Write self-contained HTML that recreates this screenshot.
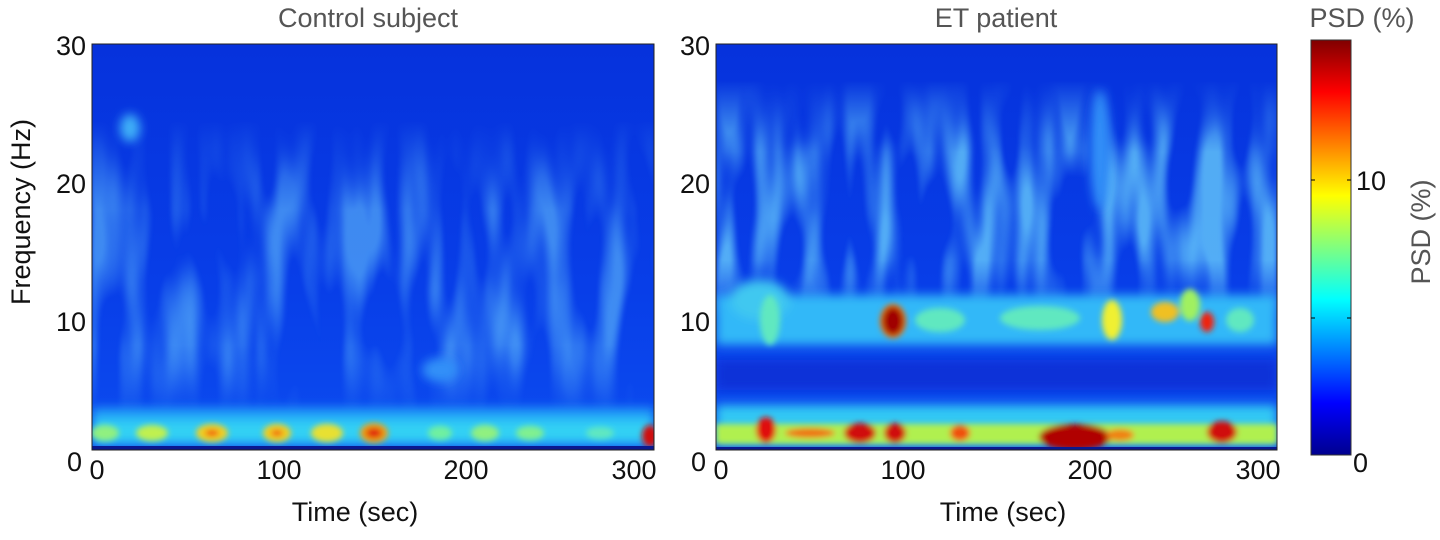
<!DOCTYPE html>
<html><head><meta charset="utf-8"><style>
html,body{margin:0;padding:0;background:#fff;}
svg text{font-family:"Liberation Sans",Arial,sans-serif;}
</style></head><body>
<svg width="1440" height="535" viewBox="0 0 1440 535" xmlns="http://www.w3.org/2000/svg">
<defs>
<filter id="b" x="-20%" y="-20%" width="140%" height="140%"><feGaussianBlur stdDeviation="5"/></filter>
<filter id="b2" x="-20%" y="-20%" width="140%" height="140%"><feGaussianBlur stdDeviation="3"/></filter>
<filter id="tex" x="0" y="0" width="100%" height="100%">
<feTurbulence type="fractalNoise" baseFrequency="0.035 0.007" numOctaves="2" seed="3"/>
<feColorMatrix values="0 0 0 0 0.15  0 0 0 0 0.6  0 0 0 0 0.97  3.2 0 0 0 -1.35"/>
<feGaussianBlur stdDeviation="1.5"/>
</filter>
<filter id="tex2" x="0" y="0" width="100%" height="100%">
<feTurbulence type="fractalNoise" baseFrequency="0.035 0.007" numOctaves="2" seed="11"/>
<feColorMatrix values="0 0 0 0 0.15  0 0 0 0 0.65  0 0 0 0 0.97  3.6 0 0 0 -1.45"/>
<feGaussianBlur stdDeviation="1.5"/>
</filter>
<linearGradient id="fade" x1="0" y1="0" x2="0" y2="1">
<stop offset="0" stop-color="#fff" stop-opacity="0"/><stop offset="0.3" stop-color="#fff" stop-opacity="1"/>
<stop offset="0.75" stop-color="#fff" stop-opacity="1"/><stop offset="1" stop-color="#fff" stop-opacity="0"/>
</linearGradient>
<mask id="mL" maskUnits="userSpaceOnUse" x="0" y="0" width="1440" height="535"><rect x="92" y="120" width="562" height="300" fill="url(#fade)"/></mask>
<mask id="mR" maskUnits="userSpaceOnUse" x="0" y="0" width="1440" height="535"><rect x="716" y="80" width="561" height="240" fill="url(#fade)"/></mask>
<clipPath id="cl"><rect x="92" y="44" width="562" height="406"/></clipPath>
<clipPath id="cr"><rect x="716" y="44" width="561" height="406"/></clipPath>
<linearGradient id="jet" x1="0" y1="1" x2="0" y2="0">
<stop offset="0" stop-color="#00008f"/><stop offset="0.125" stop-color="#0000ff"/>
<stop offset="0.375" stop-color="#00ffff"/><stop offset="0.625" stop-color="#ffff00"/>
<stop offset="0.875" stop-color="#ff0000"/><stop offset="1" stop-color="#800000"/>
</linearGradient>
<linearGradient id="bgL" x1="0" y1="0" x2="0" y2="1">
<stop offset="0" stop-color="#0632dc"/><stop offset="0.6" stop-color="#083ee8"/><stop offset="1" stop-color="#0c4cf0"/>
</linearGradient>
</defs>

<!-- Left panel -->
<g clip-path="url(#cl)">
<rect x="92" y="44" width="562" height="406" fill="url(#bgL)"/>
<g mask="url(#mL)" opacity="0.55"><rect x="92" y="120" width="562" height="300" filter="url(#tex)"/></g>
<g filter="url(#b)">
<ellipse cx="130" cy="128" rx="10" ry="14" fill="#40b0f8"/>
<ellipse cx="440" cy="370" rx="18" ry="12" fill="#3090f8"/>
<rect x="92" y="408" width="562" height="38" fill="#20a0f8"/>
<rect x="92" y="420" width="562" height="22" fill="#30d0f4"/>
</g>
<g filter="url(#b2)">
<ellipse cx="105" cy="433" rx="14" ry="8" fill="#90f080"/>
<ellipse cx="152" cy="433" rx="16" ry="8" fill="#c0f050"/>
<ellipse cx="212" cy="433" rx="16" ry="9" fill="#f0d020"/>
<ellipse cx="212" cy="433" rx="7" ry="3" fill="#f04010"/>
<ellipse cx="277" cy="433" rx="14" ry="9" fill="#f0d020"/>
<ellipse cx="277" cy="433" rx="6" ry="3" fill="#f05010"/>
<ellipse cx="327" cy="433" rx="16" ry="9" fill="#e8e030"/>
<ellipse cx="374" cy="433" rx="14" ry="10" fill="#f0a010"/>
<ellipse cx="374" cy="433" rx="8" ry="5" fill="#e02010"/>
<ellipse cx="440" cy="433" rx="12" ry="7" fill="#70f0a0"/>
<ellipse cx="485" cy="433" rx="14" ry="8" fill="#90f080"/>
<ellipse cx="530" cy="433" rx="14" ry="7" fill="#80f090"/>
<ellipse cx="600" cy="433" rx="14" ry="6" fill="#60e8c0"/>
<ellipse cx="650" cy="436" rx="8" ry="11" fill="#d01010"/>
</g>
<rect x="92" y="446" width="562" height="4" fill="#0a1890"/>
</g>
<rect x="92" y="44" width="562" height="406" fill="none" stroke="#222" stroke-width="1"/>

<!-- Right panel -->
<g clip-path="url(#cr)">
<rect x="716" y="44" width="561" height="406" fill="url(#bgL)"/>
<g mask="url(#mR)" opacity="0.75"><rect x="716" y="80" width="561" height="240" filter="url(#tex2)"/></g>
<g filter="url(#b)">
<rect x="716" y="295" width="561" height="50" fill="#30b8f8"/>
<ellipse cx="760" cy="300" rx="30" ry="20" fill="#40c8f0"/>
<ellipse cx="1100" cy="150" rx="10" ry="60" fill="#3090f8"/>
<rect x="716" y="360" width="561" height="30" fill="#0a30d8"/>
<rect x="716" y="405" width="561" height="40" fill="#30c8f4"/>
</g>
<g filter="url(#b2)">
<ellipse cx="770" cy="320" rx="10" ry="25" fill="#60e8c0"/>
<ellipse cx="940" cy="320" rx="25" ry="12" fill="#60e8c0"/>
<ellipse cx="1040" cy="318" rx="40" ry="12" fill="#60e8c0"/>
<ellipse cx="1112" cy="320" rx="10" ry="20" fill="#f0f030"/>
<ellipse cx="1165" cy="312" rx="14" ry="10" fill="#f0c020"/>
<ellipse cx="1190" cy="305" rx="10" ry="16" fill="#a0f060"/>
<ellipse cx="1240" cy="320" rx="14" ry="12" fill="#60e8c0"/>
<ellipse cx="893" cy="321" rx="13" ry="17" fill="#f07010"/>
<ellipse cx="893" cy="321" rx="10" ry="14" fill="#a00000"/>
<ellipse cx="1207" cy="322" rx="7" ry="10" fill="#f02010"/>
<rect x="716" y="424" width="561" height="20" fill="#b0f050"/>
<ellipse cx="766" cy="430" rx="10" ry="13" fill="#e01010"/>
<ellipse cx="810" cy="433" rx="25" ry="5" fill="#f07010"/>
<ellipse cx="860" cy="433" rx="16" ry="10" fill="#d00808"/>
<ellipse cx="895" cy="433" rx="11" ry="10" fill="#d00808"/>
<ellipse cx="960" cy="433" rx="10" ry="8" fill="#f05010"/>
<ellipse cx="1075" cy="437" rx="36" ry="13" fill="#b00000"/>
<ellipse cx="1120" cy="435" rx="14" ry="6" fill="#f08010"/>
<ellipse cx="1222" cy="432" rx="15" ry="11" fill="#d00808"/>
</g>
<rect x="716" y="447" width="561" height="3" fill="#0a1890"/>
</g>
<rect x="716" y="44" width="561" height="406" fill="none" stroke="#222" stroke-width="1"/>

<!-- colorbar -->
<rect x="1311" y="40" width="40" height="415" fill="url(#jet)" stroke="#333" stroke-width="1"/>
<line x1="1311" y1="180" x2="1315" y2="180" stroke="#000"/><line x1="1347" y1="180" x2="1351" y2="180" stroke="#000"/>
<line x1="1311" y1="318" x2="1315" y2="318" stroke="#000"/><line x1="1347" y1="318" x2="1351" y2="318" stroke="#000"/>

<!-- text -->
<g font-size="27" fill="#111">
<text x="368" y="27" text-anchor="middle" fill="#555">Control subject</text>
<text x="996" y="27" text-anchor="middle" fill="#555">ET patient</text>
<text x="1362" y="27" text-anchor="middle" fill="#555">PSD (%)</text>
<text x="86" y="55" text-anchor="end">30</text>
<text x="86" y="193" text-anchor="end">20</text>
<text x="86" y="331" text-anchor="end">10</text>
<text x="82" y="471" text-anchor="end">0</text>
<text x="710" y="55" text-anchor="end">30</text>
<text x="710" y="193" text-anchor="end">20</text>
<text x="710" y="331" text-anchor="end">10</text>
<text x="706" y="471" text-anchor="end">0</text>
<text x="97" y="479" text-anchor="middle">0</text>
<text x="279" y="479" text-anchor="middle">100</text>
<text x="466" y="479" text-anchor="middle">200</text>
<text x="634" y="479" text-anchor="middle">300</text>
<text x="721" y="479" text-anchor="middle">0</text>
<text x="903" y="479" text-anchor="middle">100</text>
<text x="1090" y="479" text-anchor="middle">200</text>
<text x="1258" y="479" text-anchor="middle">300</text>
<text x="1356" y="190">10</text>
<text x="1353" y="472">0</text>
<text x="355" y="521" text-anchor="middle">Time (sec)</text>
<text x="1003" y="521" text-anchor="middle">Time (sec)</text>
<text transform="translate(30 212) rotate(-90)" text-anchor="middle">Frequency (Hz)</text>
<text transform="translate(1430 232) rotate(-90)" text-anchor="middle" fill="#555">PSD (%)</text>
</g>
</svg>
</body></html>
